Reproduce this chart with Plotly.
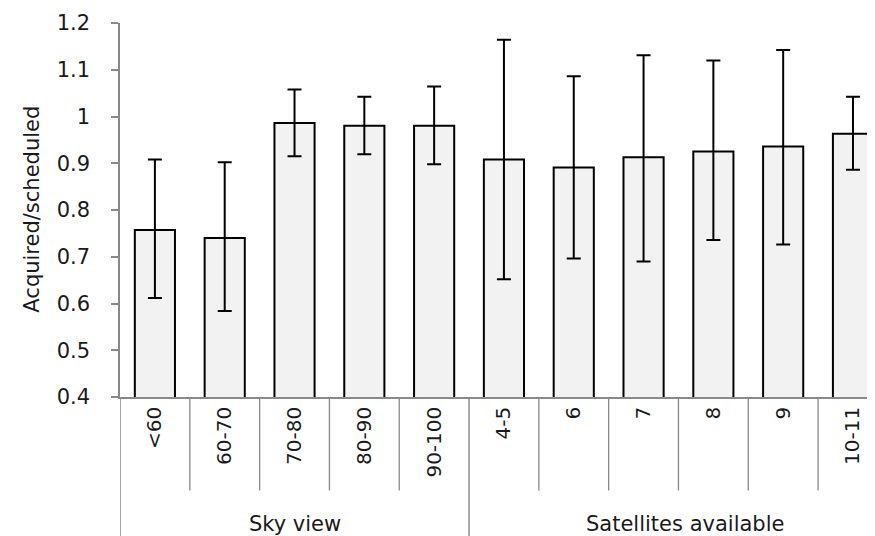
import plotly.graph_objects as go

categories = ["<60", "60-70", "70-80", "80-90", "90-100", "4-5", "6", "7", "8", "9", "10-11"]
groups = ["Sky view", "Satellites available"]
group_sizes = [5, 6]
values = [0.757, 0.740, 0.986, 0.980, 0.980, 0.908, 0.891, 0.913, 0.925, 0.936, 0.963]
err_high = [0.908, 0.902, 1.058, 1.042, 1.064, 1.164, 1.086, 1.131, 1.120, 1.142, 1.042]
err_low = [0.612, 0.584, 0.915, 0.919, 0.898, 0.652, 0.696, 0.690, 0.736, 0.726, 0.886]
y_ticks = [0.4, 0.5, 0.6, 0.7, 0.8, 0.9, 1.0, 1.1, 1.2]
y_tick_labels = ["0.4", "0.5", "0.6", "0.7", "0.8", "0.9", "1", "1.1", "1.2"]
y_title = "Acquired/scheduled"

FONT = "'DejaVu Sans', sans-serif"
GREY = "#898989"
TEXT = "#1a1a1a"

xs = list(range(len(categories)))
fig = go.Figure()
fig.add_trace(go.Bar(
    x=xs, y=values,
    width=0.575,
    marker=dict(color="#f2f2f2", line=dict(color="black", width=2)),
    error_y=dict(type="data", symmetric=False,
                 array=[h - v for h, v in zip(err_high, values)],
                 arrayminus=[v - l for l, v in zip(err_low, values)],
                 color="black", thickness=2, width=7),
    showlegend=False,
))

shapes = []
n = len(categories)
bounds = []
acc = 0
for s in group_sizes:
    bounds.append(acc)
    acc += s
bounds.append(acc)
for k in range(n + 1):
    xk = k - 0.5
    if k in bounds:
        shapes.append(dict(type="line", xref="x", yref="paper", x0=xk, x1=xk,
                           y0=0, y1=-0.395, line=dict(color=GREY, width=1.5)))
    else:
        shapes.append(dict(type="line", xref="x", yref="paper", x0=xk, x1=xk,
                           y0=0, y1=-0.25, line=dict(color=GREY, width=1.3)))

annotations = []
group_xshift = [0, 7]
for gi, g in enumerate(groups):
    start = bounds[gi]
    end = bounds[gi + 1] - 1
    annotations.append(dict(x=(start + end) / 2, y=-0.3385, xref="x", yref="paper",
                            text=g, showarrow=False, xanchor="center", yanchor="middle",
                            xshift=group_xshift[gi],
                            font=dict(family=FONT, size=21, color=TEXT)))
annotations.append(dict(x=-0.1153, y=0.501, xref="paper", yref="paper", text=y_title,
                        textangle=-90, showarrow=False, xanchor="center", yanchor="middle",
                        font=dict(family=FONT, size=21, color=TEXT)))

fig.update_layout(
    width=875, height=536,
    margin=dict(l=112, r=0, t=15, b=147),
    plot_bgcolor="white", paper_bgcolor="white",
    shapes=shapes, annotations=annotations,
    font=dict(family=FONT, size=20, color=TEXT),
)
fig.update_xaxes(
    range=[-0.5, 10.43],
    tickmode="array", tickvals=xs, ticktext=categories,
    tickangle=-90, ticks="", showgrid=False, zeroline=False,
    showline=True, linecolor=GREY, linewidth=1.5,
    tickfont=dict(family=FONT, size=20, color=TEXT),
)
fig.update_yaxes(
    range=[0.4, 1.2],
    tickmode="array", tickvals=y_ticks, ticktext=y_tick_labels,
    ticks="outside", ticklen=7, tickwidth=1.5, tickcolor=GREY,
    ticklabelstandoff=17,
    showgrid=False, zeroline=False,
    showline=True, linecolor=GREY, linewidth=1.5,
    tickfont=dict(family=FONT, size=21, color=TEXT),
)
fig.write_html("out.html")
